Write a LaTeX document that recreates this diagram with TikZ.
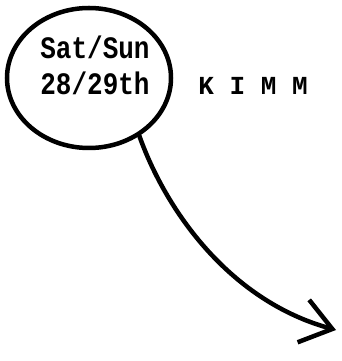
\documentclass[tikz,border=0pt]{standalone}
\usepackage{fontspec}
\newfontfamily\dotfont{Liberation Mono}
\usepackage{tikz}
\usetikzlibrary{arrows.meta,positioning,shapes.geometric}
\tikzset{
    bubble/.style={draw, ellipse, line width=4.5pt, minimum width=164pt,
    minimum height=140pt, inner sep=0pt},
    datetext/.style={font=\dotfont\bfseries\fontsize{26}{30}\selectfont,
    align=center, inner sep=0pt, yscale=1.2, transform shape},
    kimmtext/.style={font=\dotfont\bfseries\fontsize{26}{28}\selectfont,
    inner sep=0pt, anchor=west},
    pointer/.style={line width=4.5pt, line cap=round,
    -{Straight Barb[length=30pt, width=44pt]}},
}
\begin{document}
\begin{tikzpicture}[x=1pt, y=1pt]
            \useasboundingbox (0,0) rectangle (342,361);
            % --- date bubble ---
            \node[bubble] (bubble) at (89,283) {};
            \node[datetext] (date) at (95,296) {Sat/Sun\\28/29th};
            % --- label ---
            \node[kimmtext, right=25pt of bubble.east, yshift=-8pt] (kimm) {K I M M};
            % --- pointer ---
            \coordinate (tip) at (336,31);
            \draw[pointer] (bubble.-49) .. controls (166,150) and (230,60) .. (tip);
        \end{tikzpicture}
\end{document}
